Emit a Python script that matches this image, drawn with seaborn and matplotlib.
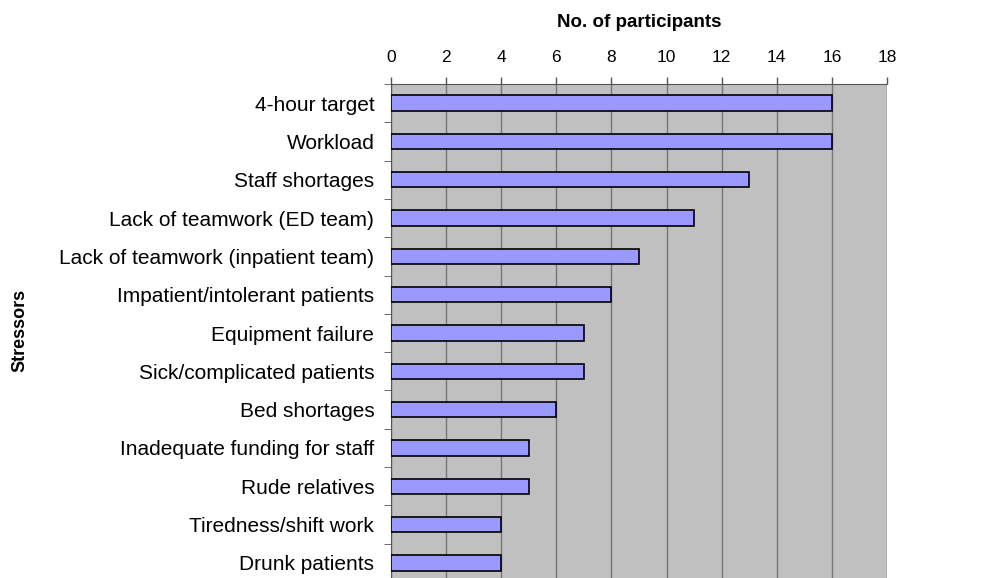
import matplotlib
matplotlib.use("Agg")
import matplotlib.pyplot as plt
import seaborn as sns
import pandas as pd
import numpy as np

stressors = [
    "4-hour target", "Workload", "Staff shortages", "Lack of teamwork (ED team)",
    "Lack of teamwork (inpatient team)", "Impatient/intolerant patients",
    "Equipment failure", "Sick/complicated patients", "Bed shortages",
    "Inadequate funding for staff", "Rude relatives", "Tiredness/shift work",
    "Drunk patients",
]
participants = [16, 16, 13, 11, 9, 8, 7, 7, 6, 5, 5, 4, 4]
xticks = [0, 2, 4, 6, 8, 10, 12, 14, 16, 18]

sns.set_style("white")
plt.rcParams["font.family"] = ["Liberation Sans", "DejaVu Sans"]
plt.rcParams["text.color"] = "black"
plt.rcParams["axes.labelcolor"] = "black"

df = pd.DataFrame({"Stressor": stressors, "Count": participants})

fig = plt.figure(figsize=(9.82, 5.78), dpi=100)
ax = fig.add_axes([391/982, -0.007, 496/982, 1 - 84/578 + 0.007])
ax.set_facecolor("#C0C0C0")

sns.barplot(data=df, x="Count", y="Stressor", orient="h", color="#9999FF",
            edgecolor="black", linewidth=1.2, width=0.4, saturation=1, ax=ax, zorder=3)

ax.set_xlim(0, 18)
ax.set_ylim(len(stressors) - 0.5, -0.5)
ax.set_xticks(xticks)
ax.xaxis.tick_top()
ax.xaxis.set_label_position("top")
ax.tick_params(axis="x", which="major", direction="out", length=5, width=1,
               color="#555555", labelsize=12.5, labelcolor="black", pad=9,
               top=True, bottom=False)
ax.grid(axis="x", color="#777777", linewidth=1, zorder=0)
ax.set_axisbelow(True)

ax.set_yticks(np.arange(len(stressors)))
ax.set_yticklabels(stressors)
ax.tick_params(axis="y", which="major", length=0, labelsize=15, labelcolor="black", pad=12)
ax.set_yticks(np.arange(len(stressors) + 1) - 0.5, minor=True)
ax.tick_params(axis="y", which="minor", direction="out", length=5, color="#555555", left=True)

for s in ["bottom", "right"]:
    ax.spines[s].set_visible(False)
ax.spines["top"].set_color("#555555")
ax.spines["left"].set_color("#555555")

ax.set_xlabel("No. of participants", fontsize=13.5, fontweight="bold", labelpad=16)
ax.set_ylabel("")
fig.text(20/982, 1 - 330/578, "Stressors", rotation=90, fontsize=13,
         fontweight="bold", ha="center", va="center")

fig.savefig("out.png", dpi=100)
